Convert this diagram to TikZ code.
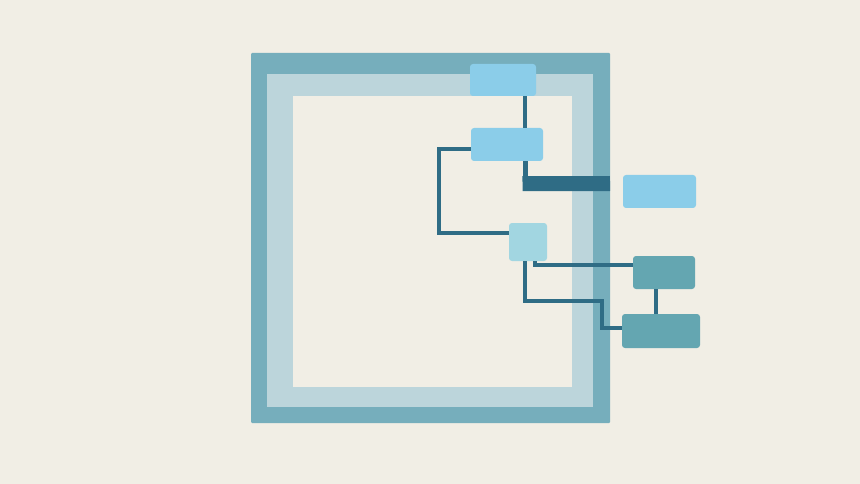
\documentclass[tikz,border=0pt]{standalone}
\definecolor{bg}{HTML}{F1EEE5}
\definecolor{frameDark}{HTML}{76AEBC}
\definecolor{frameLight}{HTML}{BCD5DB}
\definecolor{boxBlue}{HTML}{8BCDE9}
\definecolor{boxPale}{HTML}{A2D6E1}
\definecolor{boxTeal}{HTML}{64A6B1}
\definecolor{conn}{HTML}{2F6C85}
\begin{document}
\begin{tikzpicture}[x=1pt,y=-1pt,
  box/.style={rounded corners=3pt, inner sep=0pt, draw=none},
  wire/.style={draw=conn, line width=4pt, line cap=butt, line join=miter}]
\useasboundingbox (0,0) rectangle (860,484);
\fill[bg] (0,0) rectangle (860,484);
% frame
\fill[frameDark, rounded corners=1pt] (251,53) rectangle (610,423);
\fill[frameLight] (267,74) rectangle (593,407);
\fill[bg] (293,96) rectangle (572,387);
% nodes
\node[box, fill=boxBlue, minimum width=66pt, minimum height=32pt] (A) at (503,80) {};
\node[box, fill=boxBlue, minimum width=72pt, minimum height=33pt] (B) at (507,144.5) {};
\node[box, fill=boxBlue, minimum width=73pt, minimum height=33pt] (C) at (659.5,191.5) {};
\node[box, fill=boxPale, minimum width=38pt, minimum height=38pt] (D) at (528,242) {};
\node[box, fill=boxTeal, minimum width=62pt, minimum height=33pt] (E) at (664,272.5) {};
\node[box, fill=boxTeal, minimum width=78pt, minimum height=34pt] (F) at (661,331) {};
\coordinate (barEnd) at (610,183.5);
% connectors
\draw[wire] ([xshift=22pt]A.south) -- ([xshift=18pt]B.north);
\draw[wire, line width=5pt] ([xshift=18pt]B.south) -- ([xshift=18pt,yshift=-23pt]B.south);
\draw[conn, line width=15pt] ([xshift=15.5pt,yshift=-22.5pt]B.south) -- (barEnd);
\draw[wire] ([yshift=-4.5pt]B.west) -| (439,233) -- ([yshift=9pt]D.west);
\draw[wire] ([xshift=-3pt]D.south) -- (525,301) -| (602,328) -- ([yshift=3pt]F.west);
\draw[wire, line width=3.5pt] ([xshift=7pt]D.south) -- (535,265) -- ([yshift=7.5pt]E.west);
\draw[wire] ([xshift=-8pt]E.south) -- ([xshift=-5pt]F.north);
\end{tikzpicture}
\end{document}
